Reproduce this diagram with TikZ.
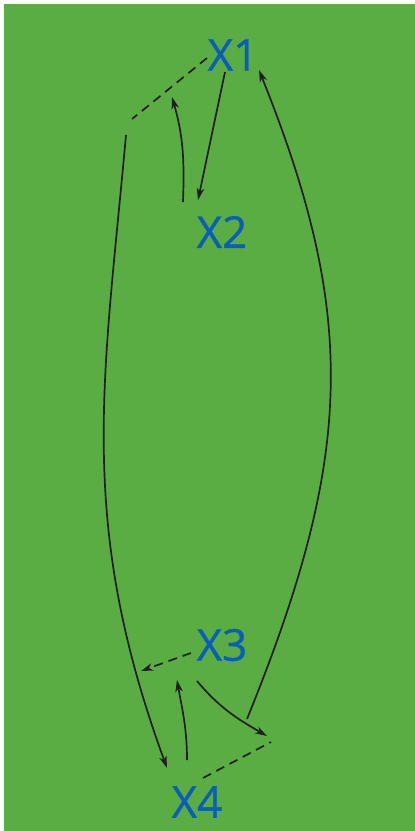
\documentclass[tikz,border=0pt]{standalone}
\usepackage{fontspec}
\setmainfont{Open Sans}
\newfontfamily\specfont{Open Sans}[FakeBold=0.8]
\usetikzlibrary{arrows.meta}
\definecolor{leaf}{HTML}{5AAD43}
\definecolor{ink}{HTML}{231F20}
\definecolor{spec}{HTML}{0B5EB7}

\begin{document}
\begin{tikzpicture}[x=1pt, y=-1pt,
  sp/.style={font=\specfont\fontsize{44}{44}\selectfont, text=spec, inner sep=0pt},
  link/.style={draw=ink, line width=1.7pt, -{Stealth[length=12pt, width=7.5pt, inset=3.5pt]}},
  dlink/.style={draw=ink, line width=1.7pt, dash pattern=on 9pt off 6pt}
]
  \fill[leaf] (4,4) rectangle (415,831);
  \useasboundingbox (0,0) rectangle (415,831);

  % species
  \node[sp] (x1) at (233,55) {X1};
  \node[sp] (x2) at (222,232) {X2};
  \node[sp] (x3) at (222,645) {X3};
  \node[sp] (x4) at (197,802) {X4};

  % joints of the dashed lines
  \coordinate (j1) at (132,119);
  \coordinate (j2) at (271,742);

  % upper pair
  \draw[dlink] ([shift={(-26,3)}]x1.center) -- (j1);
  \draw[link] ([shift={(-8,17)}]x1.center) -- ([shift={(-24,-32)}]x2.center);
  \draw[link] ([shift={(-39,-30)}]x2.center) to[out=88, in=-74] ([shift={(40,-22)}]j1);

  % lower pair
  \draw[dlink] ([shift={(6,-24)}]x4.center) -- (j2);
  \draw[dlink, -{Stealth[length=12pt, width=7.5pt, inset=3.5pt]}] ([shift={(-31,8)}]x3.center) -- ([shift={(-81,26)}]x3.center);
  \draw[link] ([shift={(-10,-42)}]x4.center) to[out=90, in=-80] ([shift={(-20,-122)}]x4.center);
  \draw[link] ([shift={(-25,36)}]x3.center) to[out=-50, in=150] ([shift={(-4,-6)}]j2);

  % long arcs
  \draw[link] ([shift={(-6,16)}]j1) .. controls (104,380) and (76,519) .. ([shift={(-30,-34)}]x4.center);
  \draw[link] ([shift={(-24,-23)}]j2) .. controls (353,458) and (359,319) .. ([shift={(26,15)}]x1.center);
\end{tikzpicture}
\end{document}
